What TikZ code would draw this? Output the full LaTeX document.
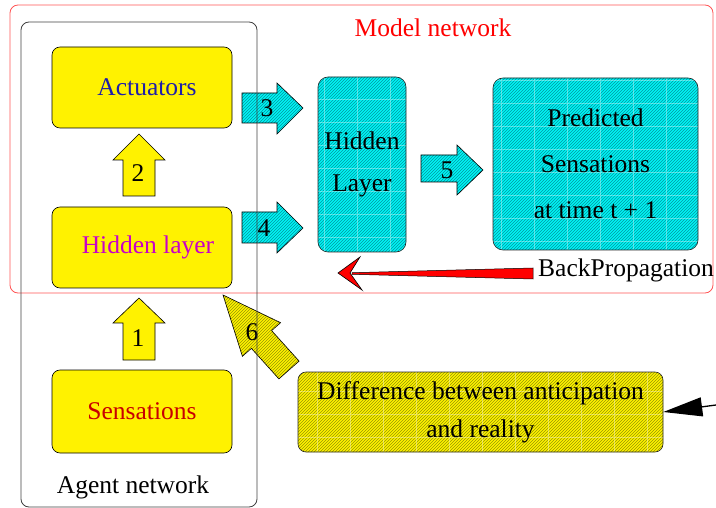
\documentclass[tikz,border=0pt]{standalone}
\usepackage{fontspec}
\setmainfont{Liberation Serif}
\newfontfamily\tms{Liberation Serif}
\usetikzlibrary{patterns,arrows.meta}
\definecolor{cy}{RGB}{0,245,245}
\definecolor{cyd}{RGB}{0,150,160}
\definecolor{yld}{RGB}{150,150,0}
\definecolor{modelred}{RGB}{255,85,85}
\definecolor{actblue}{RGB}{30,30,170}
\definecolor{hidmag}{RGB}{200,0,200}
\definecolor{sensred}{RGB}{200,0,0}
\tikzset{
  txt/.style={font=\tms\fontsize{25.5}{30}\selectfont},
  gridpic/.style={path picture={\draw[white,opacity=0.35,line width=0.5pt]
      (path picture bounding box.south west) grid[xstep=33pt,ystep=23pt]
      (path picture bounding box.north east);}},
  ybox/.style={txt, draw=black, line width=0.6pt, fill=yellow, rounded corners=8pt,
    minimum width=180pt, minimum height=81pt, inner sep=0pt},
  cbox/.style={draw=black!85, line width=0.6pt, preaction={fill=cy},
    pattern=north east lines, pattern color=cyd, gridpic,
    rounded corners=10pt, align=center, inner sep=0pt},
  yhbox/.style={draw=black!85, line width=0.6pt, preaction={fill=yellow},
    pattern=north east lines, pattern color=yld, gridpic,
    rounded corners=8pt, align=center, inner sep=0pt},
  yarrow/.style={draw=black, line width=0.6pt, fill=yellow, line join=miter},
  carrow/.style={draw=black, line width=0.6pt, preaction={fill=cy},
    pattern=north east lines, pattern color=cyd},
  yharrow/.style={draw=black, line width=0.6pt, preaction={fill=yellow},
    pattern=north east lines, pattern color=yld},
  lbl/.style={txt, inner sep=0pt}
}
\begin{document}
\begin{tikzpicture}[x=1pt,y=-1pt]
\useasboundingbox (0,0) rectangle (716,508);

% model network frame
\node[draw=modelred, line width=0.8pt, rounded corners=8pt, minimum width=703pt,
  minimum height=288pt, inner sep=0pt] (model) at (361.5,149) {};
\node[txt, text=red] (mn) at (433,28) {Model network};

% block arrows
\path[yarrow] (123,360) -- (155,360) -- (155,323) -- (165,323) -- (139,298)
  -- (113,323) -- (123,323) -- cycle;
\node[lbl] (n1) at (138,338) {1};
\path[yarrow] (123,196) -- (155,196) -- (155,160) -- (165,160) -- (139,134)
  -- (113,160) -- (123,160) -- cycle;
\node[lbl] (n2) at (138,173) {2};
\path[carrow] (242,93) -- (277,93) -- (277,83) -- (303,108) -- (277,134)
  -- (277,123) -- (242,123) -- cycle;
\node[lbl] (n3) at (267,108) {3};
\path[carrow] (242,212) -- (277,212) -- (277,202) -- (303,228) -- (277,253)
  -- (277,243) -- (242,243) -- cycle;
\node[lbl] (n4) at (264,228) {4};
\path[carrow] (421,155) -- (457,155) -- (457,145) -- (483,170) -- (457,195)
  -- (457,182) -- (421,182) -- cycle;
\node[lbl] (n5) at (447,170) {5};
\path[yharrow] (299.1,361.1) -- (271.6,330.6) -- (280.6,322.7) -- (223,295)
  -- (242.4,356.3) -- (251.4,348.4) -- (278.9,378.9) -- cycle;
\node[lbl] (n6) at (252,332) {6};

% agent network boxes
\node[ybox, text=actblue] (act) at (142,87.5) {\hspace*{10pt}Actuators};
\node[ybox, text=hidmag] (hid) at (142,247.5) {\hspace*{12pt}Hidden layer};
\node[ybox, text=sensred, minimum height=83pt] (sens) at (142,411.5) {Sensations};

% agent network frame
\node[draw=black!75, line width=0.8pt, rounded corners=8pt, minimum width=236pt,
  minimum height=485pt, inner sep=0pt] (agent) at (139,264.5) {};
\node[txt] (an) at (133,487) {Agent network};

% model network boxes
\node[cbox, font=\tms\fontsize{25.5}{42}\selectfont, minimum width=88pt,
  minimum height=175pt] (mhid) at (362,164.5) {Hidden\\Layer};
\node[cbox, font=\tms\fontsize{25.5}{46}\selectfont, minimum width=205pt,
  minimum height=172pt] (pred) at (595.5,164) {Predicted\\Sensations\\at time t + 1};

% backpropagation arrow
\node[txt, anchor=west, inner sep=0pt] (bp) at (538,270) {BackPropagation};
\fill[red, draw=black, line width=0.5pt] (533,268) -- (533,279) -- (352,274.3)
  -- (352,272.7) -- cycle;
\fill[red, draw=black, line width=0.6pt] (338,273) -- (360,257) -- (350,273)
  -- (362,290) -- cycle;

% difference box
\node[yhbox, font=\tms\fontsize{25.5}{38}\selectfont, minimum width=365pt,
  minimum height=80pt] (diff) at (480.5,412) {Difference between anticipation\\and reality};
\coordinate (bin) at (716,405);
\draw[line width=1.3pt, -{Triangle[length=39pt,width=19pt]}] (bin) -- (diff.east);
\end{tikzpicture}
\end{document}
